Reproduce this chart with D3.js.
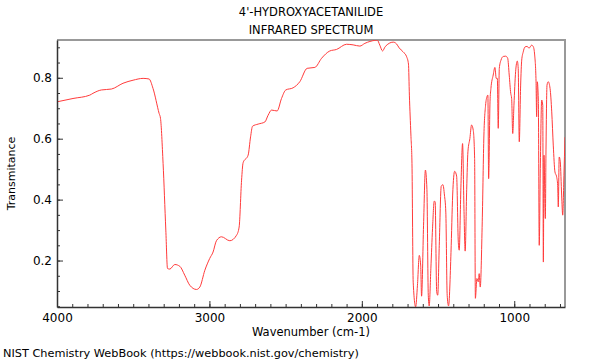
<!DOCTYPE html>
<html>
<head>
<meta charset="utf-8">
<script src="https://cdn.jsdelivr.net/npm/d3@7"></script>
<style>
  body { margin: 0; background: #fff; }
  text { font-family: "DejaVu Sans", sans-serif; }
</style>
</head>
<body>
<div id="chart"></div>
<script>
// spectrum (wavenumber in cm-1, transmittance)
var wavenumber = [4000,3895,3785,3764,3709,3643,3567,3501,3435,3396,3370,3330,3321,3304,3286,3275,3260,3227,3194,3162,
  3129,3085,3063,3030,2998,2976,2954,2921,2866,2822,2805,2789,2779,2746,2730,2717,2680,2636,2615,2592,
  2556,2527,2499,2451,2407,2359,2308,2264,2210,2166,2100,2057,2013,1980,1914,1899,1882,1864,1847,1794,
  1772,1755,1729,1706,1694,1688,1678,1671,1663,1647,1635,1623,1614,1608,1595,1583,1573,1564,1558,1547,
  1536,1525,1519,1509,1502,1492,1479,1468,1458,1449,1440,1431,1415,1404,1391,1378,1367,1361,1350,1339,
  1330,1322,1312,1304,1291,1280,1269,1260,1255,1245,1236,1230,1223,1210,1199,1188,1179,1173,1168,1159,
  1153,1138,1127,1118,1111,1105,1098,1087,1072,1056,1043,1033,1023,1017,1010,1002,991,980,974,967,
  958,951,941,930,915,903,886,875,866,857,853,849,842,836,829,820,813,809,805,796,
  792,785,777,765,754,744,733,722,715,711,705,698,689,682,674,667];
var transmittance = [0.721,0.732,0.743,0.749,0.760,0.763,0.782,0.792,0.798,0.796,0.765,0.683,0.667,0.519,0.300,0.174,0.172,0.187,0.181,0.152,
  0.119,0.105,0.113,0.168,0.207,0.228,0.265,0.278,0.265,0.283,0.310,0.464,0.521,0.546,0.606,0.641,0.648,0.655,0.677,0.694,
  0.691,0.732,0.760,0.767,0.787,0.831,0.834,0.864,0.888,0.893,0.910,0.908,0.904,0.913,0.923,0.924,0.907,0.888,0.902,0.917,
  0.911,0.898,0.885,0.869,0.845,0.743,0.612,0.519,0.129,0.048,0.119,0.217,0.185,0.083,0.316,0.497,0.434,0.086,0.051,0.175,
  0.306,0.395,0.393,0.099,0.086,0.250,0.444,0.449,0.415,0.359,0.086,0.051,0.227,0.415,0.493,0.477,0.260,0.234,0.441,0.584,
  0.372,0.231,0.434,0.557,0.601,0.645,0.628,0.535,0.076,0.141,0.130,0.157,0.113,0.327,0.612,0.710,0.738,0.743,0.469,0.721,
  0.765,0.809,0.834,0.798,0.798,0.634,0.831,0.858,0.870,0.871,0.864,0.809,0.749,0.732,0.617,0.710,0.820,0.855,0.831,0.590,
  0.776,0.858,0.885,0.901,0.903,0.897,0.907,0.902,0.875,0.787,0.672,0.787,0.727,0.250,0.502,0.727,0.710,0.195,0.546,0.338,
  0.546,0.776,0.787,0.765,0.688,0.579,0.491,0.475,0.447,0.376,0.540,0.524,0.415,0.349,0.480,0.605];

var xTicks = [4000, 3000, 2000, 1000];
var yTicks = [0.2, 0.4, 0.6, 0.8];
var xMinorTicks = d3.range(700, 4001, 100);
var yMinorTicks = d3.range(1, 19).map(d => d * 0.05);

var width = 600;
var height = 360;
var plotLeft = 57, plotRight = 565, plotTop = 40, plotBottom = 307;

var svg = d3.select('#chart').append('svg')
    .attr('width', width)
    .attr('height', height);

var xScale = d3.scaleLinear()
    .domain([4000, 667])
    .range([plotLeft, plotRight]);

var yScale = d3.scaleLinear()
    .domain([0.0475, 0.924])
    .range([plotBottom, plotTop]);

// frame: grey top and right edges
svg.append('path')
    .attr('d', 'M' + plotLeft + ',' + plotTop + 'H' + plotRight + 'V' + plotBottom)
    .attr('fill', 'none')
    .attr('stroke', '#999')
    .attr('stroke-width', 2);

// spectrum, clipped to the plot area
svg.append('clipPath').attr('id', 'plotClip')
  .append('rect')
    .attr('x', plotLeft).attr('y', plotTop)
    .attr('width', plotRight - plotLeft).attr('height', plotBottom - plotTop);

var points = wavenumber.map((w, i) => [w, transmittance[i]]);

svg.append('path')
    .datum(points)
    .attr('clip-path', 'url(#plotClip)')
    .attr('fill', 'none')
    .attr('stroke', '#ff3b3b')
    .attr('stroke-width', 1)
    .attr('stroke-linejoin', 'round')
    .attr('d', d3.line()
        .x(d => xScale(d[0]))
        .y(d => yScale(d[1]))
        .curve(d3.curveMonotoneX));

// minor ticks first, then the labelled axes
svg.append('g')
    .attr('transform', 'translate(0,' + plotBottom + ')')
    .call(d3.axisBottom(xScale).tickValues(xMinorTicks).tickSize(-3).tickFormat(''))
    .call(g => g.select('.domain').remove());

svg.append('g')
    .attr('transform', 'translate(' + plotLeft + ',0)')
    .call(d3.axisLeft(yScale).tickValues(yMinorTicks).tickSize(-3).tickFormat(''))
    .call(g => g.select('.domain').remove());

svg.append('g')
    .attr('transform', 'translate(0,' + plotBottom + ')')
    .call(d3.axisBottom(xScale).tickValues(xTicks).tickSizeInner(-6).tickSizeOuter(0).tickPadding(6).tickFormat(d3.format('d')));

svg.append('g')
    .attr('transform', 'translate(' + plotLeft + ',0)')
    .call(d3.axisLeft(yScale).tickValues(yTicks).tickSizeInner(-6).tickSizeOuter(0).tickPadding(5).tickFormat(d3.format('.1f')));

svg.selectAll('.tick line').attr('stroke', '#333');
svg.selectAll('.domain').attr('stroke', '#333').attr('stroke-width', 1.5);
svg.selectAll('.tick text')
    .attr('fill', '#000')
    .style('font-size', '12px')
    .style('font-family', '"DejaVu Sans", sans-serif');

// titles and labels
svg.append('text')
    .attr('x', (plotLeft + plotRight) / 2)
    .attr('y', 16)
    .style('text-anchor', 'middle')
    .style('font-size', '11.5px')
    .text("4'-HYDROXYACETANILIDE");

svg.append('text')
    .attr('x', (plotLeft + plotRight) / 2)
    .attr('y', 34)
    .style('text-anchor', 'middle')
    .style('font-size', '11.5px')
    .text('INFRARED SPECTRUM');

svg.append('text')
    .attr('x', (plotLeft + plotRight) / 2)
    .attr('y', 336)
    .style('text-anchor', 'middle')
    .style('font-size', '11.5px')
    .text('Wavenumber (cm-1)');

svg.append('text')
    .attr('transform', 'rotate(-90)')
    .attr('x', -(plotTop + plotBottom) / 2)
    .attr('y', 15)
    .style('text-anchor', 'middle')
    .style('font-size', '11px')
    .text('Transmitance');

svg.append('text')
    .attr('x', 3)
    .attr('y', 357)
    .style('font-size', '11.3px')
    .text('NIST Chemistry WebBook (https://webbook.nist.gov/chemistry)');
</script>
</body>
</html>
